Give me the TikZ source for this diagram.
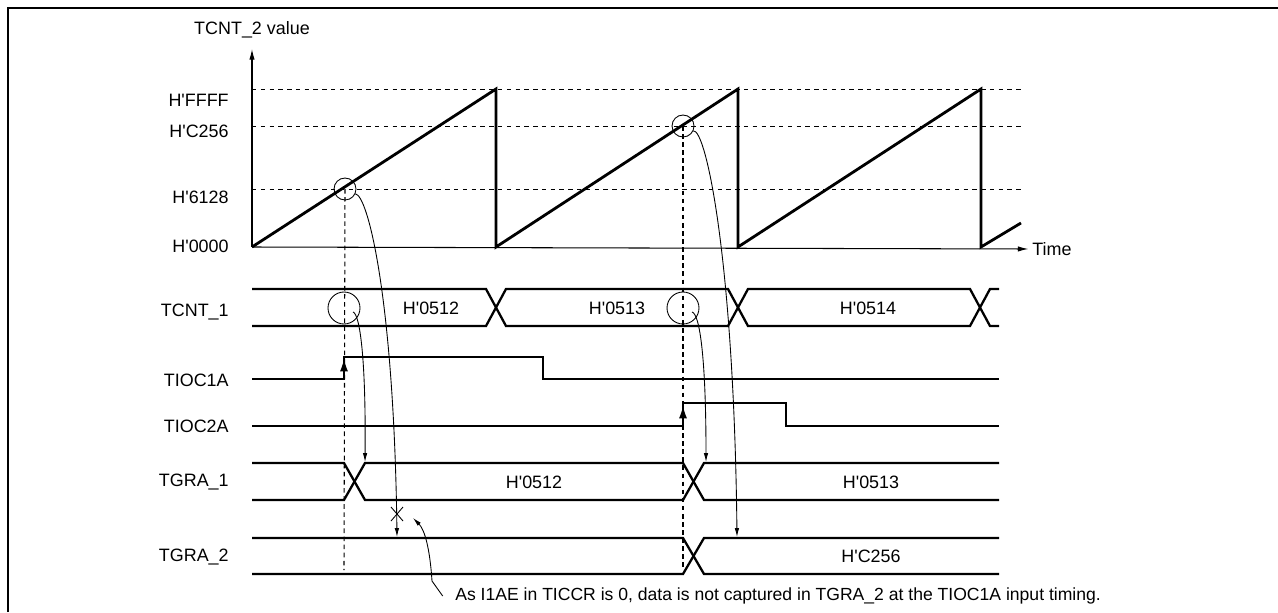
\documentclass[tikz,border=0pt]{standalone}
\usepackage{fontspec}
\setmainfont{Liberation Sans}
\usetikzlibrary{arrows.meta}
\newcommand{\hval}[1]{H\textquotesingle#1}

\begin{document}
\begin{tikzpicture}[x=0.02cm, y=-0.02cm,
  % Line styles
  sigline/.style={line width=1.3pt, line join=miter},
  ramp/.style={line width=1.6pt},
  axarrow/.style={line width=0.6pt, -{Latex[length=6pt,width=3pt]}},
  lvldash/.style={line width=0.5pt, dash pattern=on 2.5pt off 2.5pt},
  guide/.style={line width=0.6pt, dash pattern=on 2.6pt off 2pt},
  ring/.style={draw, circle, line width=0.5pt, inner sep=0pt},
  capt/.style={line width=0.5pt, -{Latex[length=5pt,width=2.5pt]}},
  % Text styles
  lbl/.style={font=\fontsize{10.2}{12}\selectfont, inner sep=0pt, anchor=east},
  val/.style={font=\fontsize{10.2}{12}\selectfont, inner sep=0pt},
]
\useasboundingbox (0,0) rectangle (1278,612);

% === Frame ===
\draw[line width=1.2pt] (8,612) -- (8,8) -- (1278,8);

% === Counter graph ===
\node[val] (ylab) at (252,30) {TCNT\_2 value};
\node[val, anchor=west] (tlab) at (1032,249) {Time};
\coordinate (org) at (252,247);
\draw[axarrow] (org) -- (252,49);
\draw[axarrow] (org) -- ([xshift=-2]tlab.west);

\node[lbl] (lFFFF) at (229,100) {\hval{FFFF}};
\node[lbl] (lC256) at (229,131) {\hval{C256}};
\node[lbl] (l6128) at (229,197) {\hval{6128}};
\node[lbl] (l0000) at (229,246) {\hval{0000}};

\draw[lvldash] (252,89)  -- (1022,89);
\draw[lvldash] (252,126) -- (1022,126);
\draw[lvldash] (252,189) -- (1022,189);

\draw[ramp] (org) -- (496,89) -- (496,247) -- (738,89) -- (738,247)
  -- (981,89) -- (981,247) -- (1021,223);

% capture points
\node[ring, minimum size=4.4mm] (c1) at (345,189) {};
\node[ring, minimum size=4.4mm] (c2) at (683,126) {};

% === Signal labels ===
\node[lbl] (sTCNT) at (229,312) {TCNT\_1};
\node[lbl] (sIC1)  at (229,380) {TIOC1A};
\node[lbl] (sIC2)  at (229,426) {TIOC2A};
\node[lbl] (sGR1)  at (229,482) {TGRA\_1};
\node[lbl] (sGR2)  at (229,557) {TGRA\_2};

% === TCNT_1 bus ===
\draw[sigline] (252,289) -- (486,289) -- (506,326) -- (728,326) -- (748,289)
  -- (970,289) -- (990,326) -- (999,326);
\draw[sigline] (252,326) -- (486,326) -- (506,289) -- (728,289) -- (748,326)
  -- (970,326) -- (990,289) -- (999,289);
\node[val] (v512) at (431,308) {\hval{0512}};
\node[val] (v513) at (617,308) {\hval{0513}};
\node[val] (v514) at (868,308) {\hval{0514}};
\node[ring, minimum size=6.4mm] (b1) at (344,308) {};
\node[ring, minimum size=6.4mm] (b2) at (683,308) {};

% === Input pins ===
\draw[sigline] (252,379) -- (344,379) -- (344,357) -- (543,357) -- (543,379) -- (999,379);
\draw[line width=0.6pt, -{Latex[length=7pt,width=4.5pt]}] (344,379) -- (344,359);
\draw[sigline] (252,426) -- (683,426) -- (683,403) -- (786,403) -- (786,426) -- (999,426);
\draw[line width=0.6pt, -{Latex[length=7pt,width=4.5pt]}] (683,426) -- (683,406);

% === TGRA_1 ===
\draw[sigline] (252,463) -- (344,463) -- (365,500) -- (683,500) -- (704,463) -- (999,463);
\draw[sigline] (252,500) -- (344,500) -- (365,463) -- (683,463) -- (704,500) -- (999,500);
\node[val] (g512) at (534,482) {\hval{0512}};
\node[val] (g513) at (871,482) {\hval{0513}};

% === TGRA_2 ===
\draw[sigline] (252,538) -- (683,538) -- (704,574) -- (999,574);
\draw[sigline] (252,574) -- (683,574) -- (704,538) -- (999,538);
\node[val] (gC256) at (871,556) {\hval{C256}};

% === Timing guides ===
\draw[guide] (c1.center) -- (344,570);
\draw[guide] (c2.center) -- (683,570);

% === Capture arrows ===
\coordinate (t1) at (365,462);
\coordinate (t2) at (706,462);
\coordinate (u1) at (397,537);
\coordinate (u2) at (737,537);
\draw[capt] (353,312) .. controls (360,314) and (366,360) .. (t1);
\draw[capt] (692,312) .. controls (700,314) and (706,360) .. (t2);
\draw[capt] (c1.-25) .. controls (368,195) and (394,300) .. (u1);
\draw[capt] (c2.-25) .. controls (706,129) and (734,260) .. (u2);

% not captured
\coordinate (nx) at (397,514);
\draw[line width=0.5pt] ([shift={(-6,-7)}]nx) -- ([shift={(6,7)}]nx)
  ([shift={(-6,7)}]nx) -- ([shift={(6,-7)}]nx);

% === Note ===
\node[val, anchor=west, font=\fontsize{10}{12}\selectfont] (note) at (455,596)
  {As I1AE in TICCR is 0, data is not captured in TGRA\_2 at the TIOC1A input timing.};
\coordinate (nt) at (413,518);
\draw[capt] ([xshift=-7]note.west) -- (432,581) .. controls (430,550) and (425,530) .. (nt);

\end{tikzpicture}
\end{document}
